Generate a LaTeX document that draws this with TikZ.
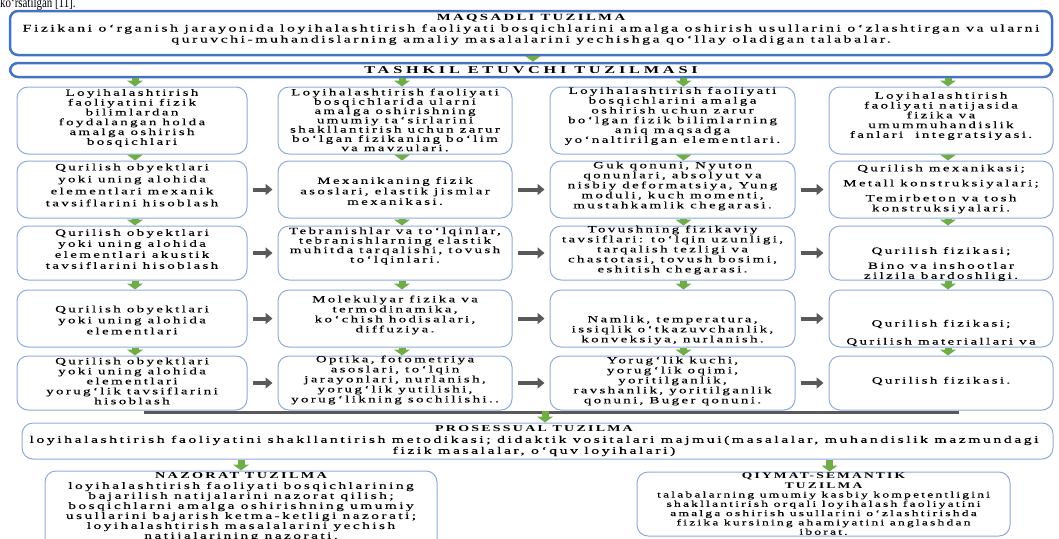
\documentclass[tikz,border=0pt]{standalone}
\usepackage{fontspec}
\setmainfont{Liberation Serif}
\newfontfamily\bodyfont{Liberation Serif}[FakeStretch=1.55,LetterSpace=25,FakeBold=0.25]
\newfontfamily\headfont{Liberation Serif}[FakeStretch=1.55,LetterSpace=25]
\newfontfamily\pagefont{Liberation Serif}[FakeStretch=0.78]
\newcommand\myhd[2]{{\headfont\bfseries\fontsize{#1}{#1}\selectfont #2}}
\usetikzlibrary{arrows.meta,calc}
\definecolor{bblue}{HTML}{4472C4}
\definecolor{lblue}{HTML}{8FAADC}
\definecolor{ggreen}{HTML}{70AD47}
\definecolor{dgray}{HTML}{595959}
\tikzset{
  bigbox/.style={draw=bblue, line width=2.5pt, rounded corners=8pt, fill=white, inner sep=0pt},
  cbox/.style={draw=lblue, line width=1pt, rounded corners=11pt, fill=white, inner sep=0pt},
  txt/.style={align=center, inner sep=0pt, font=\bodyfont\fontsize{9.6}{10.5}\selectfont},
  txtr1/.style={txt, font=\bodyfont\fontsize{9.6}{9.8}\selectfont},
  garrow/.style={draw=ggreen, line width=7pt, -{Triangle[width=16pt,length=6pt]}},
  darrow/.style={draw=dgray, line width=4pt, -{Triangle[width=11pt,length=7pt]}, shorten <=5pt, shorten >=5pt},
  bracket/.style={draw=dgray, line width=3pt}
}
\begin{document}
\begin{tikzpicture}[x=1pt,y=-1pt]
\useasboundingbox (0,0) rectangle (1059,538);
% cut-off line of page text
\node[anchor=base west, inner sep=0pt, font=\pagefont\fontsize{14}{15}\selectfont] (pg) at (0,7) {ko‘rsatilgan [11].};

% top boxes
\node[bigbox, minimum width=1042, minimum height=44] (maq) at (531,33) {};
\node[txt, font=\bodyfont\fontsize{10.15}{11}\selectfont] (tmaq) at (531,29.5) {\myhd{9.5}{MAQSADLI TUZILMA}\\
Fizikani o‘rganish jarayonida loyihalashtirish faoliyati bosqichlarini amalga oshirish usullarini o‘zlashtirgan va ularni\\
quruvchi-muhandislarning amaliy masalalarini yechishga qo‘llay oladigan talabalar.};
\node[bigbox, minimum width=1042, minimum height=14] (tash) at (531,70) {};
\node[txt] (ttash) at (531,70) {\myhd{10.5}{\addfontfeatures{LetterSpace=36}TASHKIL ETUVCHI TUZILMASI}};
\draw[garrow] ([xshift=2pt]maq.south) -- ([xshift=2pt]tash.north);

% row 1
\node[cbox, minimum width=230, minimum height=67] (c11) at (132,120.5) {};
\node[cbox, minimum width=234, minimum height=67] (c12) at (395,120.5) {};
\node[cbox, minimum width=245, minimum height=67] (c13) at (672.5,120.5) {};
\node[cbox, minimum width=224, minimum height=67] (c14) at (941,120.5) {};
\node[txtr1] (t11) at (132,118) {Loyihalashtirish\\faoliyatini fizik\\bilimlardan\\foydalangan holda\\amalga oshirish\\bosqichlari};
\node[txtr1, font=\bodyfont\fontsize{9.6}{9.3}\selectfont] (t12) at (395,120) {Loyihalashtirish faoliyati\\bosqichlarida ularni\\amalga oshirishning\\umumiy ta‘sirlarini\\shakllantirish uchun zarur\\bo‘lgan fizikaning bo‘lim\\va mavzulari.};
\node[txtr1] (t13) at (672.5,116) {Loyihalashtirish faoliyati\\bosqichlarini amalga\\oshirish uchun zarur\\bo‘lgan fizik bilimlarning\\aniq maqsadga\\yo‘naltirilgan elementlari.};
\node[txtr1] (t14) at (941,116) {Loyihalashtirish\\faoliyati natijasida\\fizika va\\umummuhandislik\\fanlari\ \ integratsiyasi.};

% row 2
\node[cbox, minimum width=230, minimum height=57] (c21) at (132,189.5) {};
\node[cbox, minimum width=234, minimum height=57] (c22) at (395,189.5) {};
\node[cbox, minimum width=245, minimum height=57] (c23) at (672.5,189.5) {};
\node[cbox, minimum width=224, minimum height=57] (c24) at (941,189.5) {};
\node[txt, font=\bodyfont\fontsize{9.6}{12}\selectfont] (t21) at (132,185) {Qurilish obyektlari\\yoki uning alohida\\elementlari mexanik\\tavsiflarini hisoblash};
\node[txt] (t22) at (395,191) {Mexanikaning fizik\\asoslari, elastik jismlar\\mexanikasi.};
\node[txt, font=\bodyfont\fontsize{9.6}{10}\selectfont] (t23) at (672.5,186) {Guk qonuni, Nyuton\\qonunlari, absolyut va\\nisbiy deformatsiya, Yung\\moduli, kuch momenti,\\mustahkamlik chegarasi.};
\node[txt, font=\bodyfont\fontsize{9.6}{10}\selectfont] (t24) at (941,189) {Qurilish mexanikasi;\\[5pt]Metall konstruksiyalari;\\[5pt]Temirbeton va tosh\\konstruksiyalari.};

% row 3
\node[cbox, minimum width=230, minimum height=54] (c31) at (132,253) {};
\node[cbox, minimum width=234, minimum height=54] (c32) at (395,253) {};
\node[cbox, minimum width=245, minimum height=54] (c33) at (672.5,253) {};
\node[cbox, minimum width=224, minimum height=54] (c34) at (941,253) {};
\node[txt, font=\bodyfont\fontsize{9.6}{11}\selectfont] (t31) at (132,249) {Qurilish obyektlari\\yoki uning alohida\\elementlari akustik\\tavsiflarini hisoblash};
\node[txt, font=\bodyfont\fontsize{9.6}{9.5}\selectfont] (t32) at (395,246) {Tebranishlar va to‘lqinlar,\\tebranishlarning elastik\\muhitda tarqalishi, tovush\\to‘lqinlari.};
\node[txt, font=\bodyfont\fontsize{9.6}{10}\selectfont] (t33) at (672.5,250) {Tovushning fizikaviy\\tavsiflari: to‘lqin uzunligi,\\tarqalish tezligi va\\chastotasi, tovush bosimi,\\eshitish chegarasi.};
\node[txt, font=\bodyfont\fontsize{9.6}{10}\selectfont] (t34) at (941,264) {Qurilish fizikasi;\\[5pt]Bino va inshootlar\\zilzila bardoshligi.};

% row 4
\node[cbox, minimum width=230, minimum height=57] (c41) at (132,318.5) {};
\node[cbox, minimum width=234, minimum height=57] (c42) at (395,318.5) {};
\node[cbox, minimum width=245, minimum height=57] (c43) at (672.5,318.5) {};
\node[cbox, minimum width=224, minimum height=57] (c44) at (941,318.5) {};
\node[txt, font=\bodyfont\fontsize{9.6}{11}\selectfont] (t41) at (132,320) {Qurilish obyektlari\\yoki uning alohida\\elementlari};
\node[txt, font=\bodyfont\fontsize{9.6}{10}\selectfont] (t42) at (395,315) {Molekulyar fizika va\\termodinamika,\\ko‘chish hodisalari,\\diffuziya.};
\node[txt, font=\bodyfont\fontsize{9.6}{10}\selectfont] (t43) at (672.5,330) {Namlik, temperatura,\\issiqlik o‘tkazuvchanlik,\\konveksiya, nurlanish.};
\begin{scope}
\clip[rounded corners=11pt] (829,290) rectangle (1053,347);
\node[txt, font=\bodyfont\fontsize{9.6}{10}\selectfont] (t44) at (941,333) {Qurilish fizikasi;\\[8pt]Qurilish materiallari va};
\end{scope}

% row 5
\node[cbox, minimum width=230, minimum height=54] (c51) at (132,383) {};
\node[cbox, minimum width=234, minimum height=54] (c52) at (395,383) {};
\node[cbox, minimum width=245, minimum height=54] (c53) at (672.5,383) {};
\node[cbox, minimum width=224, minimum height=54] (c54) at (941,383) {};
\node[txt, font=\bodyfont\fontsize{9.6}{10}\selectfont] (t51) at (132,381) {Qurilish obyektlari\\yoki uning alohida\\elementlari\\yorug‘lik tavsiflarini\\hisoblash};
\node[txt, font=\bodyfont\fontsize{9.6}{10}\selectfont] (t52) at (395,380) {Optika, fotometriya\\asoslari, to‘lqin\\jarayonlari, nurlanish,\\yorug‘lik yutilishi,\\yorug‘likning sochilishi..};
\node[txt, font=\bodyfont\fontsize{9.6}{10}\selectfont] (t53) at (672.5,381) {Yorug‘lik kuchi,\\yorug‘lik oqimi,\\yoritilganlik,\\ravshanlik, yoritilganlik\\qonuni, Buger qonuni.};
\node[txt, font=\bodyfont\fontsize{9.6}{10}\selectfont] (t54) at (941,381) {Qurilish fizikasi.};

% green arrows
\draw[garrow] ([xshift=3pt]c11.north |- tash.south) -- ([xshift=3pt]c11.north);
\draw[garrow] ([xshift=7pt]c12.north |- tash.south) -- ([xshift=7pt]c12.north);
\draw[garrow] ([xshift=11pt]c13.north |- tash.south) -- ([xshift=11pt]c13.north);
\draw[garrow] ([xshift=7pt]c14.north |- tash.south) -- ([xshift=7pt]c14.north);
\foreach \a/\b in {1/2,2/3,3/4,4/5}{
  \draw[garrow] ([xshift=3pt]c\a1.south) -- ([xshift=3pt]c\b1.north);
  \draw[garrow] ([xshift=7pt]c\a2.south) -- ([xshift=7pt]c\b2.north);
  \draw[garrow] ([xshift=11pt]c\a3.south) -- ([xshift=11pt]c\b3.north);
  \draw[garrow] ([xshift=7pt]c\a4.south) -- ([xshift=7pt]c\b4.north);
}
% gray arrows
\foreach \r in {2,3,4,5}{
  \draw[darrow] (c\r1.east) -- (c\r2.west);
  \draw[darrow] (c\r2.east) -- (c\r3.west);
  \draw[darrow] (c\r3.east) -- (c\r4.west);
}

% bracket
\coordinate (bl) at (145,412);
\coordinate (br) at (957,412);
\coordinate (bm) at (545,412);
\draw[bracket] (bl |- c51.south) -- (bl) -- (br) -- (br |- c54.south);

% processual
\node[cbox, minimum width=1031, minimum height=36] (pro) at (537.5,441) {};
\node[txt, font=\bodyfont\fontsize{10.15}{11}\selectfont] (tpro) at (534,441) {\myhd{9}{PROSESSUAL TUZILMA}\\
loyihalashtirish faoliyatini shakllantirish metodikasi; didaktik vositalari majmui(masalalar, muhandislik mazmundagi\\
fizik masalalar, o‘quv loyihalari)};
\draw[garrow] ([yshift=1.5pt]bm) -- (bm |- pro.north);

% bottom boxes
\node[cbox, minimum width=392, minimum height=80] (naz) at (241,511) {};
\node[txt, font=\bodyfont\fontsize{9.9}{10}\selectfont] (tnaz) at (241,507) {\myhd{9.2}{NAZORAT TUZILMA}\\
loyihalashtirish faoliyati bosqichlarining\\bajarilish natijalarini nazorat qilish;\\bosqichlarni amalga oshirishning umumiy\\usullarini bajarish ketma-ketligi nazorati;\\loyihalashtirish masalalarini yechish\\natijalarining nazorati.};
\node[cbox, minimum width=373, minimum height=64] (qiy) at (823.5,504) {};
\node[txt, font=\bodyfont\fontsize{8.75}{9.3}\selectfont] (tqiy) at (823.5,504) {\myhd{8.7}{QIYMAT-SEMANTIK}\\\myhd{8.7}{TUZILMA}\\
talabalarning umumiy kasbiy kompetentligini\\shakllantirish orqali loyihalash faoliyatini\\amalga oshirish usullarini o‘zlashtirishda\\fizika kursining ahamiyatini anglashdan\\iborat.};
\draw[garrow] (naz.north |- pro.south) -- (naz.north);
\draw[garrow] ([xshift=6pt]qiy.north |- pro.south) -- ([xshift=6pt]qiy.north);
\end{tikzpicture}
\end{document}
